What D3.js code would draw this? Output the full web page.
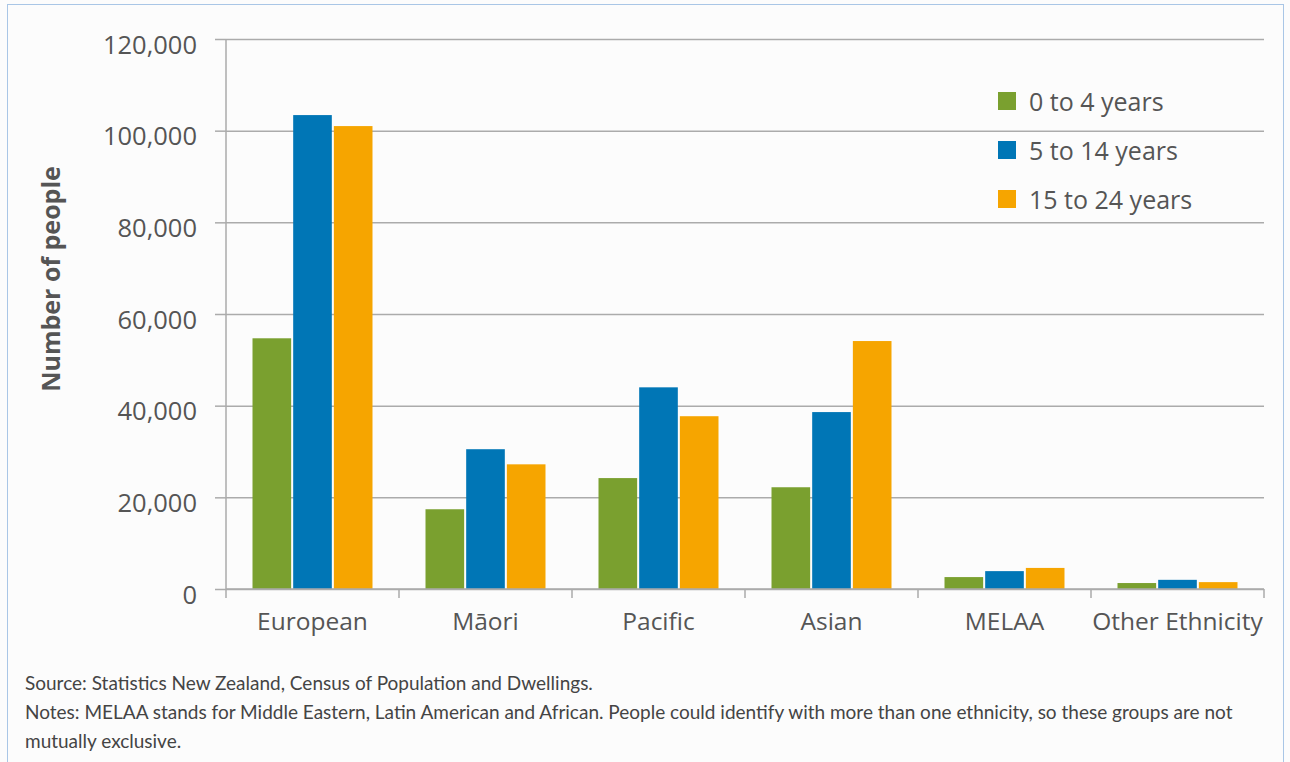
<!DOCTYPE html>
<html><head><meta charset="utf-8">
<script src="https://cdn.jsdelivr.net/npm/d3@7"></script>
<style>
html,body{margin:0;padding:0;background:#fcfcfc;}
svg{display:block;}
</style></head>
<body>
<svg id="chart" width="1290" height="762"></svg>
<script>
const categories = ["European", "Māori", "Pacific", "Asian", "MELAA", "Other Ethnicity"];
const seriesNames = ["0 to 4 years", "5 to 14 years", "15 to 24 years"];
const age0to4 = [54700, 17400, 24200, 22200, 2600, 1300];
const age5to14 = [103400, 30500, 44000, 38600, 3900, 2000];
const age15to24 = [101000, 27200, 37700, 54100, 4600, 1500];
const yTicks = [0, 20000, 40000, 60000, 80000, 100000, 120000];
const colors = ["#7aa02f", "#0076b6", "#f6a500"];
const sourceText = "Source: Statistics New Zealand, Census of Population and Dwellings.";
const notesText = ["Notes: MELAA stands for Middle Eastern, Latin American and African. People could identify with more than one ethnicity, so these groups are not", "mutually exclusive."];

const seriesValues = [age0to4, age5to14, age15to24];
const svg = d3.select("#chart");
const font = "'Open Sans', sans-serif";

svg.append("rect").attr("x", 7.5).attr("y", 4.5).attr("width", 1276).attr("height", 820)
  .attr("fill", "#fcfcfc").attr("stroke", "#a9c6e6").attr("stroke-width", 1);

const pLeft = 226, pRight = 1264, pTop = 39, pBottom = 589;
const x0 = d3.scaleBand().domain(categories).range([pLeft, pRight]).padding(0);
const x1 = d3.scaleBand().domain(seriesNames)
  .range([x0.bandwidth() / 2 - 60, x0.bandwidth() / 2 + 60]).paddingInner(0.05);
const y = d3.scaleLinear().domain([0, 120000]).range([pBottom, pTop]);

// gridlines
const grid = svg.append("g").attr("transform", `translate(${pLeft},0)`)
  .call(d3.axisLeft(y).tickValues(yTicks).tickSize(-(pRight - pLeft)).tickFormat(""));
grid.select(".domain").remove();
grid.selectAll(".tick line").attr("stroke", "#ababab").attr("stroke-width", 1.5);

// y axis with labels
const yAxis = svg.append("g").attr("transform", `translate(${pLeft},0)`)
  .call(d3.axisLeft(y).tickValues(yTicks).tickSize(11).tickPadding(18).tickFormat(d3.format(",")));
yAxis.select(".domain").attr("stroke", "#ababab").attr("stroke-width", 1.5)
  .attr("d", `M0,${pTop}V${pBottom}`);
yAxis.selectAll(".tick line").attr("stroke", "#ababab").attr("stroke-width", 1.5);
yAxis.selectAll(".tick text").attr("fill", "#555").attr("dy", "0.56em")
  .style("font-family", font).style("font-size", "25.5px");

// bars
const groups = svg.append("g").selectAll("g").data(categories).join("g")
  .attr("transform", d => `translate(${x0(d)},0)`);
groups.selectAll("rect").data((d, i) => seriesNames.map((s, j) => ({s, v: seriesValues[j][i], j})))
  .join("rect")
  .attr("x", d => x1(d.s)).attr("width", x1.bandwidth())
  .attr("y", d => y(d.v)).attr("height", d => y(0) - y(d.v))
  .attr("fill", d => colors[d.j]);

// x axis
const xAxis = svg.append("g").attr("transform", `translate(0,${pBottom})`)
  .call(d3.axisBottom(x0).tickSize(0).tickPadding(24));
xAxis.select(".domain").attr("stroke", "#ababab").attr("stroke-width", 1.5)
  .attr("d", `M${pLeft},0H${pRight}`);
xAxis.selectAll(".tick text").attr("fill", "#555").style("font-family", font).style("font-size", "24.5px");
// category boundary ticks
svg.append("g").selectAll("line").data(categories.concat(["end"])).join("line")
  .attr("x1", (d, i) => i < categories.length ? x0(d) : pRight)
  .attr("x2", (d, i) => i < categories.length ? x0(d) : pRight)
  .attr("y1", pBottom).attr("y2", pBottom + 9)
  .attr("stroke", "#ababab").attr("stroke-width", 1.5);

// y title
svg.append("text").attr("transform", `translate(60,279) rotate(-90)`)
  .attr("text-anchor", "middle").attr("fill", "#555").style("font-family", font)
  .style("font-size", "25px").style("font-weight", "bold").text("Number of people");

// legend
const legend = svg.append("g").attr("transform", "translate(998,92)");
const li = legend.selectAll("g").data(seriesNames).join("g")
  .attr("transform", (d, i) => `translate(0,${i * 49})`);
li.append("rect").attr("width", 18).attr("height", 18).attr("fill", (d, i) => colors[i]);
li.append("text").attr("x", 31).attr("y", 19).attr("fill", "#555")
  .style("font-family", font).style("font-size", "25px").text(d => d);

// footnotes
const foot = svg.append("g").style("font-family", "'Lato', sans-serif").style("font-size", "19px").attr("fill", "#444");
foot.append("text").attr("x", 25).attr("y", 690).text(sourceText);
foot.selectAll("text.n").data(notesText).join("text").attr("class", "n")
  .attr("x", 25).attr("y", (d, i) => 719 + i * 29).text(d => d);
</script>
</body></html>
